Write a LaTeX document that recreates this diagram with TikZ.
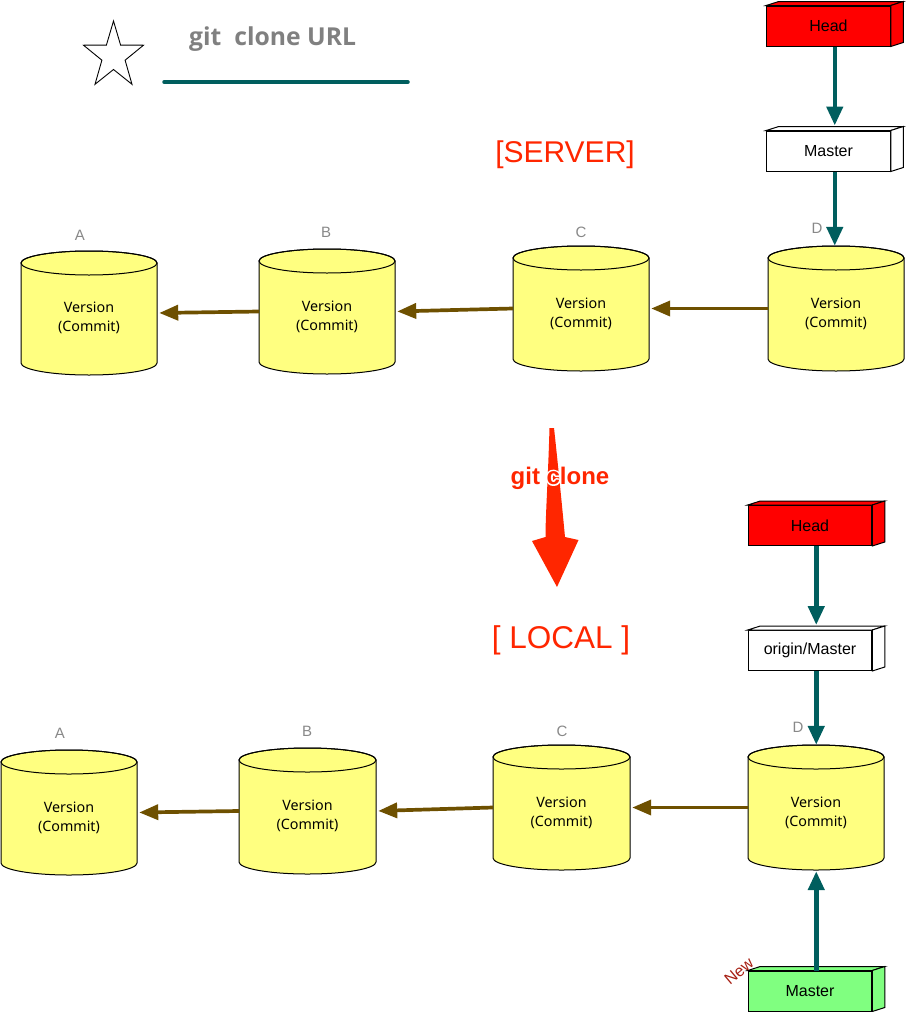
\documentclass[tikz,border=0pt]{standalone}
\usepackage{fontspec}
\setmainfont{Liberation Sans}
\newfontfamily\notofont{Noto Sans}
\newfontfamily\cmdfont{Open Sans}
\usetikzlibrary{arrows.meta,calc}

\definecolor{linkteal}{HTML}{005E5E}
\definecolor{histbrown}{HTML}{6E5000}
\definecolor{cylyellow}{HTML}{FFFF80}
\definecolor{headred}{HTML}{FF0000}
\definecolor{newgreen}{HTML}{80FF80}
\definecolor{titlered}{HTML}{FF2600}
\definecolor{newred}{HTML}{A61E12}
\definecolor{labelgray}{HTML}{888888}

% text with a white outline: a stroked white pass, then the filled text on top
\newcommand\haloed[1]{%
  \rlap{\special{pdf:literal direct 1 Tr 3.2 w 1 J 1 j 1 1 1 RG}#1%
  \special{pdf:literal direct 0 Tr 0.4 w 0 J 0 j}}#1}

\tikzset{
  cylface/.style={draw=black, line width=1pt, fill=cylyellow},
  versiontext/.style={align=center, inner sep=0pt,
    font=\notofont\fontsize{14.3}{19}\selectfont},
  letter/.style={text=labelgray, inner sep=0pt,
    font=\fontsize{15}{17}\selectfont},
  refbox/.style={draw=black, line width=1pt, inner sep=0pt,
    minimum width=123.5pt, minimum height=40pt,
    font=\fontsize{16}{19}\selectfont},
  boxedge/.style={draw=black, line width=1pt},
  teallink/.style={draw=linkteal, line width=4.5pt,
    -{Triangle[length=19pt,width=16pt]}},
  histlink/.style={draw=histbrown, line width=3.7pt, shorten >=2pt,
    -{Triangle[length=19pt,width=15pt]}},
  sectiontitle/.style={text=titlered, inner sep=0pt},
}

% commit cylinder: name, left x, right x, top ellipse centre y, bottom ellipse centre y
\newcommand\commitcyl[5]{%
  \pgfmathsetmacro\cylrx{(#3-#2)/2}%
  \pgfmathsetmacro\cylw{#3-#2}%
  \pgfmathsetmacro\cylh{#5-#4+24}%
  \filldraw[cylface] (#2,#4) -- (#2,#5)
    arc[start angle=180,end angle=360,x radius=\cylrx pt,y radius=12pt]
    -- (#3,#4)
    arc[start angle=0,end angle=180,x radius=\cylrx pt,y radius=12pt] -- cycle;
  \draw[cylface, fill=none] ($(#2,#4)!0.5!(#3,#4)$)
    ellipse[x radius=\cylrx pt, y radius=12pt];
  \node[inner sep=0pt, minimum width=\cylw pt, minimum height=\cylh pt]
    (#1) at ($(#2,#4)!0.5!(#3,#5)$) {};
  \node[versiontext] (#1-text) at ($(#1.center)+(0,5)$) {Version\\(Commit)};
}

% reference label drawn as a box with top and side faces
\newcommand\refbox[4]{%
  \node[refbox, fill=#2] (#1) at #3 {#4};
  \filldraw[boxedge, fill=#2] (#1.north west) -- ++(12.5,-4)
    -- ($(#1.north east)+(12.5,-4)$) -- (#1.north east) -- cycle;
  \filldraw[boxedge, fill=#2] (#1.north east) -- ++(12.5,-4)
    -- ($(#1.south east)+(12.5,-4)$) -- (#1.south east) -- cycle;
}

\begin{document}
\begin{tikzpicture}[x=1pt,y=-1pt]
\useasboundingbox (0,0) rectangle (905,1012);

% ---------- heading ----------
\draw[line width=0.9pt, line join=miter]
  (113.5,21) -- (120.6,45.1) -- (143.5,45.2) -- (125.1,60.2) -- (132.0,84.3)
  -- (113.5,69.5) -- (95.0,84.3) -- (101.9,60.2) -- (83.5,45.2)
  -- (106.4,45.1) -- cycle;
\node[anchor=base west, inner sep=0pt, text=gray,
  font=\cmdfont\bfseries\fontsize{24.7}{27}\selectfont]
  (cmd) at (189,45) {git\hspace{13pt}clone URL};
\coordinate (ul-a) at (164,82);
\coordinate (ul-b) at (408,82);
\draw[draw=linkteal, line width=3.5pt, line cap=round] (ul-a) -- (ul-b);

% ---------- server ----------
\node[sectiontitle, font=\fontsize{30}{34}\selectfont] (server) at (565,155) {[SERVER]};

\refbox{headS}{headred}{(828.5,26)}{Head}
\refbox{masterS}{white}{(828.5,151)}{Master}

\commitcyl{sA}{21}{157}{263}{363}
\commitcyl{sB}{259}{395}{261}{362}
\commitcyl{sC}{513}{649}{258}{359}
\commitcyl{sD}{768}{904}{258}{359}

\node[letter] (lsA) at (80,235) {A};
\node[letter] (lsB) at (326,232) {B};
\node[letter] (lsC) at (581,232) {C};
\node[letter] (lsD) at (817,228) {D};

\draw[teallink, shorten >=5pt] ([xshift=6.25pt]headS.south) -- ([xshift=6.25pt]masterS.north);
\draw[teallink] ([xshift=6.25pt]masterS.south) -- ([xshift=6.25pt]masterS.south |- sD.north);

\draw[histlink] (sD.west) -- (sC.east);
\draw[histlink] (sC.west) -- (sB.east);
\draw[histlink] (sB.west) -- (sA.east);

% ---------- clone arrow ----------
\fill[titlered] (549.5,428) .. controls (548,480) and (545.5,515) .. (545.5,537)
  -- (532,541) -- (557,587) -- (578.5,540) -- (565,537)
  .. controls (562,505) and (557,455) .. (554,428) -- cycle;
\node[text=titlered, font=\bfseries\fontsize{24}{26}\selectfont]
  (clone) at (560,478) {\haloed{git clone}};

% ---------- local ----------
\node[sectiontitle, font=\fontsize{31.5}{34}\selectfont] (local) at (561,640) {[ LOCAL ]};

\refbox{headL}{headred}{(810,525.5)}{Head}
\refbox{originL}{white}{(810,650.5)}{origin/Master}
\refbox{masterL}{newgreen}{(810,991)}{Master}

\commitcyl{lA}{1}{137}{762}{863}
\commitcyl{lB}{239}{376}{760}{862}
\commitcyl{lC}{493}{630}{757}{858}
\commitcyl{lD}{748}{884}{757}{858}

\node[letter] (llA) at (60,733) {A};
\node[letter] (llB) at (307,731) {B};
\node[letter] (llC) at (562,731) {C};
\node[letter] (llD) at (798,727) {D};

\draw[teallink, shorten >=5pt] ([xshift=6.25pt]headL.south) -- ([xshift=6.25pt]originL.north);
\draw[teallink] ([xshift=6.25pt]originL.south) -- ([xshift=6.25pt]originL.south |- lD.north);
\draw[teallink, shorten >=1pt] ([xshift=6.25pt]masterL.north) -- ([xshift=6.25pt]masterL.north |- lD.south);

\draw[histlink] (lD.west) -- (lC.east);
\draw[histlink] (lC.west) -- (lB.east);
\draw[histlink] (lB.west) -- (lA.east);

\node[text=newred, rotate=40, inner sep=0pt, font=\fontsize{16}{18}\selectfont]
  (newtag) at (739,971) {New};
\end{tikzpicture}
\end{document}
